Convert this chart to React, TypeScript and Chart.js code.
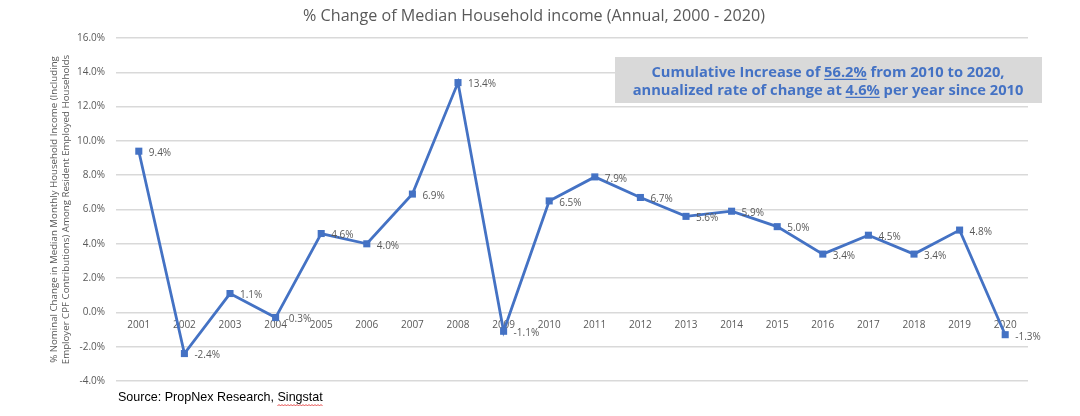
import React, { useEffect, useRef } from "react";
import { Chart, registerables } from "chart.js";

Chart.register(...registerables);

const years = ["2001", "2002", "2003", "2004", "2005", "2006", "2007", "2008", "2009", "2010", "2011", "2012", "2013", "2014", "2015", "2016", "2017", "2018", "2019", "2020"];
const changes = [9.4, -2.4, 1.1, -0.3, 4.6, 4.0, 6.9, 13.4, -1.1, 6.5, 7.9, 6.7, 5.6, 5.9, 5.0, 3.4, 4.5, 3.4, 4.8, -1.3];
const yMin = -4;
const yMax = 16;
const yStep = 2;
const titleText = "% Change of Median Household income (Annual, 2000 - 2020)";
const yAxisTitle = [
  "% Nominal Change in Median Monthly Household Income (Including",
  "Employer CPF Contributions) Among Resident Employed Households",
];
const noteLine1 = ["Cumulative Increase of ", "56.2%", " from 2010 to 2020,"];
const noteLine2 = ["annualized rate of change at ", "4.6%", " per year since 2010"];
const sourceText = ["Source: PropNex Research, ", "Singstat"];

const BLUE = "#4472C4";
const GREY_TEXT = "#595959";

function fitSize(ctx: CanvasRenderingContext2D, text: string, family: string, weight: string, target: number) {
  ctx.font = `${weight} 20px ${family}`;
  const w = ctx.measureText(text).width;
  return (20 * target) / w;
}

const decorPlugin = {
  id: "decor",
  afterDraw(chart: any) {
    const ctx: CanvasRenderingContext2D = chart.ctx;
    ctx.save();
    // Title
    const tFam = "'Open Sans'";
    const tSize = fitSize(ctx, titleText, tFam, "normal", 462);
    ctx.font = `normal ${tSize}px ${tFam}`;
    ctx.fillStyle = GREY_TEXT;
    ctx.textAlign = "center";
    ctx.textBaseline = "middle";
    ctx.fillText(titleText, 534, 16);

    // Annotation box
    ctx.fillStyle = "#d9d9d9";
    ctx.fillRect(615, 57, 427, 46);
    const nFam = "'Open Sans'";
    const nSize = fitSize(ctx, noteLine2.join(""), nFam, "bold", 391);
    ctx.font = `bold ${nSize}px ${nFam}`;
    ctx.fillStyle = BLUE;
    ctx.strokeStyle = BLUE;
    ctx.lineWidth = 1.2;
    ctx.textAlign = "left";
    ctx.textBaseline = "alphabetic";
    const drawLine = (parts: string[], cy: number) => {
      const total = ctx.measureText(parts.join("")).width;
      let x = 828 - total / 2;
      const base = cy + nSize * 0.36;
      parts.forEach((p, i) => {
        ctx.fillText(p, x, base);
        const w = ctx.measureText(p).width;
        if (i === 1) {
          ctx.beginPath();
          ctx.moveTo(x, base + 2);
          ctx.lineTo(x + w, base + 2);
          ctx.stroke();
        }
        x += w;
      });
    };
    drawLine(noteLine1, 72);
    drawLine(noteLine2, 90);

    // Source
    const sFam = "'Liberation Sans'";
    const sSize = fitSize(ctx, sourceText.join(""), sFam, "normal", 205);
    ctx.font = `normal ${sSize}px ${sFam}`;
    ctx.fillStyle = "#000000";
    ctx.textBaseline = "middle";
    ctx.fillText(sourceText.join(""), 118, 398);
    const sx0 = 118 + ctx.measureText(sourceText[0]).width;
    const sx1 = sx0 + ctx.measureText(sourceText[1]).width;
    ctx.strokeStyle = "#e02020";
    ctx.lineWidth = 0.8;
    ctx.beginPath();
    let up = true;
    ctx.moveTo(sx0, 406);
    for (let x = sx0 + 1.5; x <= sx1; x += 1.5) {
      ctx.lineTo(x, up ? 404.5 : 406);
      up = !up;
    }
    ctx.stroke();
    ctx.restore();
  },
  afterDatasetsDraw(chart: any) {
    const ctx: CanvasRenderingContext2D = chart.ctx;
    const meta = chart.getDatasetMeta(0);
    ctx.save();
    ctx.font = "normal 10px 'Open Sans'";
    ctx.fillStyle = GREY_TEXT;
    ctx.textAlign = "left";
    ctx.textBaseline = "middle";
    meta.data.forEach((pt: any, i: number) => {
      ctx.fillText(`${changes[i].toFixed(1)}%`, pt.x + 10, pt.y + 2);
    });
    ctx.restore();
  },
};

export default function App() {
  const ref = useRef<HTMLCanvasElement | null>(null);
  useEffect(() => {
    document.body.style.margin = "0";
    if (!ref.current) return;
    const chart = new Chart(ref.current, {
      type: "line",
      data: {
        labels: years,
        datasets: [
          {
            data: changes,
            borderColor: BLUE,
            backgroundColor: BLUE,
            borderWidth: 2.8,
            pointStyle: "rect",
            pointRadius: 5,
            pointBorderWidth: 0,
            pointBackgroundColor: BLUE,
            tension: 0,
            fill: false,
          },
        ],
      },
      options: {
        responsive: false,
        animation: false,
        devicePixelRatio: 1,
        layout: { padding: { top: 38, bottom: 35, left: 0, right: 52 } },
        plugins: {
          legend: { display: false },
          title: { display: false },
          tooltip: { enabled: false },
        },
        scales: {
          x: {
            type: "category",
            offset: true,
            position: { y: 0 } as any,
            grid: { display: false, drawTicks: false },
            border: { display: false },
            ticks: {
              color: GREY_TEXT,
              font: { family: "'Open Sans'", size: 10 },
              padding: 7,
              maxRotation: 0,
              autoSkip: false,
            },
            afterFit: (s: any) => {
              s.height = 0;
            },
          },
          y: {
            min: yMin,
            max: yMax,
            grid: { color: "#d9d9d9", lineWidth: 1.5, drawTicks: false },
            border: { display: false },
            ticks: {
              stepSize: yStep,
              color: GREY_TEXT,
              font: { family: "'Open Sans'", size: 10 },
              padding: 11,
              callback: (v: any) => `${Number(v).toFixed(1)}%`,
            },
            title: {
              display: true,
              text: yAxisTitle,
              color: GREY_TEXT,
              font: { family: "'Open Sans'", size: 9.7, lineHeight: 1.24 },
              padding: { top: 48, bottom: 0 },
            },
            afterFit: (s: any) => {
              s.width = 116;
            },
          },
        },
      },
      plugins: [decorPlugin],
    });
    return () => chart.destroy();
  }, []);
  return (
    <div style={{ width: 1080, height: 416, background: "#ffffff" }}>
      <canvas ref={ref} width={1080} height={416} />
    </div>
  );
}
